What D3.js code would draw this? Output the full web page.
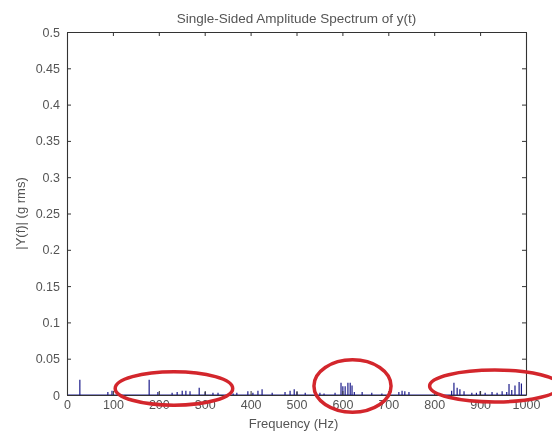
<!DOCTYPE html>
<html>
<head>
<meta charset="utf-8">
<script src="https://cdn.jsdelivr.net/npm/d3@7"></script>
<style>
  html, body { margin: 0; padding: 0; background: #fff; }
  #chart { width: 552px; height: 432px; overflow: hidden; }
  svg { font-family: "Liberation Sans", Arial, sans-serif; filter: blur(0.35px); }
</style>
</head>
<body>
<div id="chart"></div>
<script>
// spectrum peaks (Hz, g rms)
const peakFreqs = [28, 89, 98, 179, 198, 229, 240, 251, 259, 268, 288, 301, 318, 329, 362, 370,
  394, 405, 416, 425, 447, 475, 486, 495, 501, 519, 551, 560, 584, 597, 601, 606, 612, 617, 621,
  626, 643, 664, 686, 723, 730, 736, 745, 838, 843, 850, 856, 865, 882, 892, 900, 911, 926, 937,
  948, 958, 963, 969, 976, 985, 990];
const peakAmps = [0.021, 0.004, 0.006, 0.021, 0.004, 0.003, 0.004, 0.006, 0.006, 0.005, 0.010, 0.004,
  0.003, 0.003, 0.002, 0.003, 0.005, 0.003, 0.006, 0.008, 0.003, 0.004, 0.006, 0.008, 0.004, 0.003,
  0.003, 0.002, 0.003, 0.017, 0.012, 0.012, 0.017, 0.017, 0.013, 0.004, 0.004, 0.003, 0.002, 0.004,
  0.006, 0.005, 0.004, 0.006, 0.017, 0.010, 0.008, 0.005, 0.003, 0.003, 0.005, 0.003, 0.004, 0.003,
  0.005, 0.004, 0.015, 0.007, 0.013, 0.018, 0.016];

const xTicks = [0, 100, 200, 300, 400, 500, 600, 700, 800, 900, 1000];
const xTickLabels = ["0", "100", "200", "300", "400", "500", "600", "700", "800", "900", "1000"];
const yTicks = [0, 0.05, 0.1, 0.15, 0.2, 0.25, 0.3, 0.35, 0.4, 0.45, 0.5];
const yTickLabels = ["0", "0.05", "0.1", "0.15", "0.2", "0.25", "0.3", "0.35", "0.4", "0.45", "0.5"];

// red hand-drawn circles: centre Hz, centre amplitude, radius Hz, radius amplitude
const circleFreq = [233, 622, 932];
const circleAmp = [0.009, 0.0124, 0.0124];
const circleRf = [128, 84, 142];
const circleRa = [0.023, 0.036, 0.022];

const margin = { top: 32, right: 26, bottom: 37, left: 67 },
  width = 552 - margin.left - margin.right,
  height = 432 - margin.top - margin.bottom;

const svg = d3.select("#chart").append("svg")
  .attr("width", 552).attr("height", 432)
  .style("overflow", "visible");

const g = svg.append("g").attr("transform", "translate(" + margin.left + "," + margin.top + ")");

const x = d3.scaleLinear().domain([0, 1000]).range([0, width]);
const y = d3.scaleLinear().domain([0, 0.5]).range([height, 0]);

// spectrum line: baseline with vertical spikes
const pts = [[0, 0]];
peakFreqs.forEach((f, i) => { pts.push([f, 0], [f, peakAmps[i]], [f, 0]); });
pts.push([1000, 0]);

g.append("path")
  .datum(pts)
  .attr("fill", "none")
  .attr("stroke", "#1c1c8a")
  .attr("stroke-width", 1.2)
  .attr("d", d3.line().x(d => x(d[0])).y(d => y(d[1])));

// axes, matlab box style with inward ticks
const axColor = "#333";
const axBottom = g.append("g").attr("transform", "translate(0," + height + ")")
  .call(d3.axisBottom(x).tickValues(xTicks).tickSizeInner(-4).tickSizeOuter(0).tickPadding(5)
    .tickFormat((d, i) => xTickLabels[i]));
const axTop = g.append("g")
  .call(d3.axisTop(x).tickValues(xTicks).tickSizeInner(-4).tickSizeOuter(0).tickFormat(""));
const axLeft = g.append("g")
  .call(d3.axisLeft(y).tickValues(yTicks).tickSizeInner(-4).tickSizeOuter(0).tickPadding(7)
    .tickFormat((d, i) => yTickLabels[i]));
const axRight = g.append("g").attr("transform", "translate(" + width + ",0)")
  .call(d3.axisRight(y).tickValues(yTicks).tickSizeInner(-4).tickSizeOuter(0).tickFormat(""));

[axBottom, axTop, axLeft, axRight].forEach(a => {
  a.select(".domain").attr("stroke", axColor).attr("stroke-width", 1.1);
  a.selectAll(".tick line").attr("stroke", axColor);
  a.selectAll("text").attr("fill", "#555").style("font-size", "12.5px");
});

// red annotation circles
g.append("g").selectAll("ellipse")
  .data(circleFreq)
  .enter()
  .append("ellipse")
  .attr("cx", d => x(d))
  .attr("cy", (d, i) => y(circleAmp[i]))
  .attr("rx", (d, i) => x(circleRf[i]) - x(0))
  .attr("ry", (d, i) => y(0) - y(circleRa[i]))
  .attr("fill", "none")
  .attr("stroke", "#d3262c")
  .attr("stroke-width", 3.5);

// labels
svg.append("text")
  .attr("x", margin.left + width / 2).attr("y", 23)
  .attr("text-anchor", "middle")
  .attr("fill", "#555").style("font-size", "13.5px")
  .text("Single-Sided Amplitude Spectrum of y(t)");

svg.append("text")
  .attr("x", margin.left + width / 2 - 3).attr("y", 428)
  .attr("text-anchor", "middle")
  .attr("fill", "#555").style("font-size", "13px")
  .text("Frequency (Hz)");

svg.append("text")
  .attr("transform", "translate(25," + (margin.top + height / 2) + ") rotate(-90)")
  .attr("text-anchor", "middle")
  .attr("fill", "#555").style("font-size", "13px")
  .text("|Y(f)| (g rms)");
</script>
</body>
</html>
